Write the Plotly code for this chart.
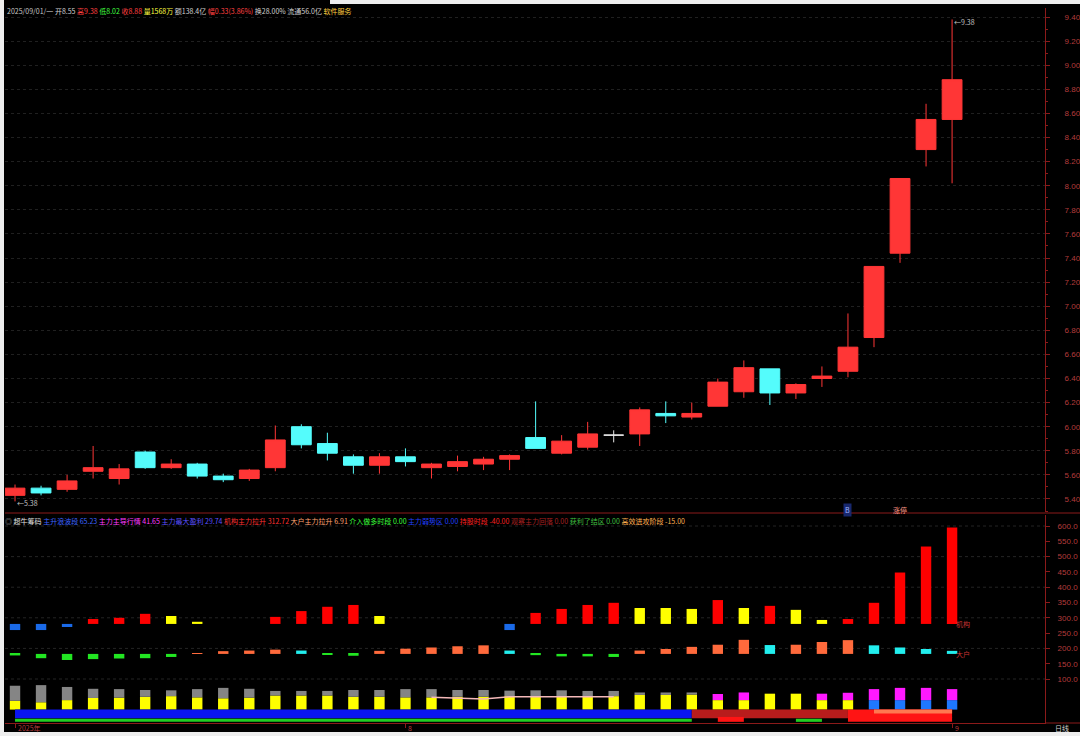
import plotly.graph_objects as go

# ---------------- data ----------------
dates = ["2025-07-11", "2025-07-14", "2025-07-15", "2025-07-16", "2025-07-17", "2025-07-18",
         "2025-07-21", "2025-07-22", "2025-07-23", "2025-07-24", "2025-07-25",
         "2025-07-28", "2025-07-29", "2025-07-30", "2025-07-31", "2025-08-01",
         "2025-08-04", "2025-08-05", "2025-08-06", "2025-08-07", "2025-08-08",
         "2025-08-11", "2025-08-12", "2025-08-13", "2025-08-14", "2025-08-15",
         "2025-08-18", "2025-08-19", "2025-08-20", "2025-08-21", "2025-08-22",
         "2025-08-25", "2025-08-26", "2025-08-27", "2025-08-28", "2025-08-29",
         "2025-09-01"]
opens = [5.43, 5.49, 5.48, 5.63, 5.57, 5.79, 5.66, 5.69, 5.59, 5.57, 5.66, 6.00, 5.86, 5.75, 5.68,
         5.75, 5.66, 5.67, 5.69, 5.73, 5.91, 5.78, 5.83, 5.93, 5.94, 6.11, 6.08, 6.17, 6.29, 6.48,
         6.28, 6.40, 6.46, 6.74, 7.44, 8.30, 8.55]
highs = [5.52, 5.51, 5.60, 5.84, 5.69, 5.80, 5.73, 5.70, 5.61, 5.65, 6.01, 6.02, 5.95, 5.77, 5.78,
         5.82, 5.70, 5.76, 5.75, 5.77, 6.21, 5.93, 6.04, 5.97, 6.16, 6.21, 6.20, 6.40, 6.55, 6.48,
         6.36, 6.50, 6.94, 7.33, 8.06, 8.68, 9.38]
lows = [5.38, 5.43, 5.46, 5.57, 5.52, 5.65, 5.65, 5.57, 5.54, 5.55, 5.63, 5.82, 5.72, 5.61, 5.61,
        5.67, 5.57, 5.63, 5.64, 5.64, 5.82, 5.77, 5.81, 5.87, 5.84, 6.03, 6.06, 6.17, 6.24, 6.18,
        6.23, 6.33, 6.41, 6.66, 7.36, 8.16, 8.02]
closes = [5.49, 5.45, 5.55, 5.66, 5.65, 5.66, 5.69, 5.59, 5.56, 5.64, 5.89, 5.85, 5.78, 5.68, 5.75,
          5.71, 5.69, 5.71, 5.73, 5.76, 5.82, 5.88, 5.94, 5.93, 6.14, 6.09, 6.11, 6.37, 6.49, 6.28,
          6.35, 6.42, 6.66, 7.33, 8.06, 8.55, 8.88]

# 机构 bars (top value, floating on a base line)
jigou_base = 280
jigou_tops = [260, 260, 270, 296, 300, 313, 306, 287, 280, 280, 303, 322, 336, 342, 306, 280, 280,
              280, 280, 260, 316, 329, 342, 349, 332, 332, 329, 358, 332, 339, 326, 293, 296, 349,
              448, 533, 595]
# 大户 bars
dahu_base = 182
dahu_tops = [177, 168, 162, 165, 167, 168, 172, 183, 191, 193, 196, 193, 180, 176, 192, 199, 203,
             207, 210, 193, 178, 174, 174, 172, 193, 198, 205, 212, 228, 211, 212, 221, 227, 210,
             203, 198, 192]
# bottom stacked bars
seg_low = [29, 24, 31, 38, 39, 42, 44, 40, 37, 39, 46, 46, 46, 42, 42, 40, 40, 42, 42, 44, 44, 44,
           44, 44, 48, 48, 49, 31, 31, 52, 52, 31, 31, 31, 31, 31, 31]
seg_high = [78, 80, 74, 68, 67, 64, 63, 67, 71, 68, 61, 61, 61, 64, 64, 67, 67, 64, 64, 62, 63, 63,
            61, 61, 56, 56, 56, 51, 56, 52, 52, 52, 55, 67, 71, 71, 67]
seg_low_kind = ["黄"] * 33 + ["蓝"] * 4
seg_high_kind = ["灰"] * 27 + ["紫"] * 10
pink_dates = dates[16:24]
pink_vals = [40, 38, 35, 42, 42, 40, 42, 42]
# bottom ribbons
band_upper_kind = ["蓝"] * 27 + ["暗红"] * 6 + ["红"] * 4
band_cap_kind = [None] * 33 + ["橙"] * 4
band_lower_kind = ["绿"] * 27 + ["红"] * 2 + [None] + ["绿"] * 2 + ["红"] * 5

month_dates = ["2025-07-11", "2025-08-01", "2025-09-01"]
month_labels = ["2025年", "8", "9"]

legend_names = ["主升浪波段", "主力主导行情", "主力最大盈利", "机构主力拉升", "大户主力拉升",
                "介入做多时段", "主力弱势区", "持股时段", "观察主力回落", "获利了结区", "高效进攻阶段"]
legend_values = ["65.23", "41.65", "29.74", "312.72", "6.91", "0.00", "0.00", "-40.00", "0.00",
                 "0.00", "-15.00"]
header_fields = ["2025/09/01/一", "开", "高", "低", "收", "量1568万", "额138.4亿",
                 "幅0.33(3.86%)", "换28.00%", "流通56.0亿", "软件服务"]

# ---------------- styles ----------------
BG = "#000000"
AXC = "#8b1a1a"
TICKC = "#b43c3c"
legend_colors = ["#3c64ff", "#ff3cff", "#5a50ff", "#ff3030", "#ffa070", "#3cff3c", "#2040ff",
                 "#ff2020", "#a82020", "#40c040", "#ffb050"]
header_colors = ["#c8c8c8", "#d0d0d0", "#ff4040", "#40ff40", "#ff4040", "#ffff40", "#d0d0d0",
                 "#ff4040", "#d0d0d0", "#d0d0d0", "#ffd040"]
seg_colors = {"黄": "#ffff00", "蓝": "#1e78ff", "灰": "#858585", "紫": "#ff19ff"}
band_colors = {"蓝": "#0a14f0", "暗红": "#b81c1c", "红": "#ff1414", "橙": "#ff7850", "绿": "#22cc22"}

L, R, T, B = 5, 35, 8, 13
W, H = 1080, 736


def px(x):
    return (x - L) / (W - L - R)


def py(y):
    return (H - B - y) / (H - T - B)


def trend_colors(vals, base, below, up, down):
    out, prev = [], None
    for v in vals:
        if v < base:
            out.append(below)
        elif prev is None or v > prev:
            out.append(up)
        else:
            out.append(down)
        prev = v
    return out


fig = go.Figure()

# candles split by direction
up_i = [i for i in range(len(dates)) if closes[i] > opens[i]]
dn_i = [i for i in range(len(dates)) if closes[i] < opens[i]]
fl_i = [i for i in range(len(dates)) if closes[i] == opens[i]]
for idx, col in ((up_i, "#ff3636"), (dn_i, "#54fcfc"), (fl_i, "#e6e6e6")):
    fig.add_trace(go.Candlestick(
        x=[dates[i] for i in idx], open=[opens[i] for i in idx], high=[highs[i] for i in idx],
        low=[lows[i] for i in idx], close=[closes[i] for i in idx],
        increasing=dict(fillcolor=col, line=dict(color=col, width=1)),
        decreasing=dict(fillcolor=col, line=dict(color=col, width=1)),
        xaxis="x", yaxis="y", hoverinfo="skip"))

BW = 0.4
# 机构 bars
fig.add_trace(go.Bar(x=dates, y=[v - jigou_base for v in jigou_tops], base=jigou_base, width=BW,
                     marker=dict(color=trend_colors(jigou_tops, jigou_base, "#1a6ae8", "#ff0000", "#ffff00"),
                                 line=dict(width=0)), yaxis="y2"))
# 大户 bars
fig.add_trace(go.Bar(x=dates, y=[v - dahu_base for v in dahu_tops], base=dahu_base, width=BW,
                     marker=dict(color=trend_colors(dahu_tops, dahu_base, "#22e622", "#ff6a3c", "#22eeee"),
                                 line=dict(width=0)), yaxis="y2"))
# stacked bottom bars
fig.add_trace(go.Bar(x=dates, y=seg_low, base=0, width=BW,
                     marker=dict(color=[seg_colors[k] for k in seg_low_kind], line=dict(width=0)), yaxis="y2"))
fig.add_trace(go.Bar(x=dates, y=[h - l for h, l in zip(seg_high, seg_low)], base=seg_low, width=BW,
                     marker=dict(color=[seg_colors[k] for k in seg_high_kind], line=dict(width=0)), yaxis="y2"))
fig.add_trace(go.Scatter(x=pink_dates, y=pink_vals, mode="lines", line=dict(color="#f4b8b8", width=1.5),
                         yaxis="y2", hoverinfo="skip"))


def runs(kinds):
    out, start = [], None
    for i, k in enumerate(kinds + [None]):
        if start is not None and (i == len(kinds) or kinds[i] != kinds[start]):
            out.append((start, i - 1, kinds[start]))
            start = None
        if i < len(kinds) and k is not None and start is None:
            start = i
    return out


def ribbon(i0, i1, top, bot, color):
    xs = dates[i0:i1 + 1]
    fig.add_trace(go.Scatter(x=xs + xs[::-1], y=[top] * len(xs) + [bot] * len(xs), fill="toself",
                             fillcolor=color, mode="lines", line=dict(width=0), yaxis="y2",
                             hoverinfo="skip"))


for k, (i0, i1, kind) in enumerate(runs(band_upper_kind)):
    ribbon(max(i0 - 1, 0) if k > 0 else i0, i1, 0, -28, band_colors[kind])
for i0, i1, kind in runs(band_lower_kind):
    ribbon(i0, i1, -30 if kind == "绿" else -24, -40, band_colors[kind])
for i0, i1, kind in runs(band_cap_kind):
    ribbon(i0, i1, 0, -13, band_colors[kind])

# ---------------- layout ----------------
ann = []
CJK = "Noto Sans CJK SC"
hdr_vals = [header_fields[0], f"开{opens[-1]:.2f}", f"高{highs[-1]:.2f}", f"低{lows[-1]:.2f}",
            f"收{closes[-1]:.2f}"] + header_fields[5:]
hdr = " ".join(f'<span style="color:{c}">{t}</span>' for t, c in zip(hdr_vals, header_colors))
ann.append(dict(xref="paper", yref="paper", x=px(5), y=py(11), xanchor="left", yanchor="middle",
                text=hdr, showarrow=False, font=dict(family=CJK, size=7)))
leg = '<span style="color:#a0a0a0">◎</span> <span style="color:#e0e0e0">超牛筹码</span> ' + " ".join(
    f'<span style="color:{c}">{n} {v}</span>' for n, v, c in zip(legend_names, legend_values, legend_colors))
ann.append(dict(xref="paper", yref="paper", x=px(3), y=py(521), xanchor="left", yanchor="middle",
                text=leg, showarrow=False, font=dict(family=CJK, size=7)))
lo_i = lows.index(min(lows))
hi_i = highs.index(max(highs))
ann.append(dict(xref="x", yref="y", x=dates[lo_i], y=lows[lo_i], xanchor="left", yanchor="middle",
                yshift=-2, text=f"←{lows[lo_i]:.2f}", showarrow=False, font=dict(family=CJK, size=7, color="#c0c0c0")))
ann.append(dict(xref="x", yref="y", x=dates[hi_i], y=highs[hi_i], xanchor="left", yanchor="middle",
                yshift=-3, text=f"←{highs[hi_i]:.2f}", showarrow=False, font=dict(family=CJK, size=7, color="#c0c0c0")))
ann.append(dict(xref="x", yref="y2", x=dates[-1], y=jigou_base, xanchor="left", yanchor="middle",
                xshift=2, text="机构", showarrow=False, font=dict(family=CJK, size=7, color="#c83232")))
ann.append(dict(xref="x", yref="y2", x=dates[-1], y=dahu_base, xanchor="left", yanchor="middle",
                xshift=2, text="大户", showarrow=False, font=dict(family=CJK, size=7, color="#c83232")))
ann.append(dict(xref="x", yref="paper", x=dates[32], y=py(510), xanchor="center", yanchor="middle",
                text="B", showarrow=False, bgcolor="#18286e", font=dict(family=CJK, size=7, color="#a0b8ff")))
ann.append(dict(xref="x", yref="paper", x=dates[34], y=py(510), xanchor="center", yanchor="middle",
                text="涨停", showarrow=False, font=dict(family=CJK, size=7, color="#ff9a8a")))
for d, lab in zip(month_dates, month_labels):
    ann.append(dict(xref="x", yref="paper", x=d, y=py(728), xanchor="left", yanchor="middle",
                    xshift=1, text=lab, showarrow=False, font=dict(family=CJK, size=7, color="#b43c3c")))
ann.append(dict(xref="paper", yref="paper", x=px(1062), y=py(728), xanchor="center", yanchor="middle",
                text="日线", showarrow=False, font=dict(family=CJK, size=7, color="#d0d0d0")))

shapes = []
for v in (100, 200, 300, 400, 500, 600):
    shapes.append(dict(type="line", xref="paper", yref="y2", x0=0, x1=1, y0=v, y1=v, layer="below",
                       line=dict(color="#242424", width=1, dash="dot")))
shapes.append(dict(type="line", xref="paper", yref="paper", x0=0, x1=px(1080), y0=py(513), y1=py(513),
                   line=dict(color=AXC, width=1)))
shapes.append(dict(type="line", xref="paper", yref="paper", x0=1, x1=px(1080), y0=py(723), y1=py(723),
                   line=dict(color=AXC, width=1)))
for x0, x1, y0, y1 in ((0, 4, 0, 736), (0, 1080, 732, 736), (330, 1080, 0, 4)):
    shapes.append(dict(type="rect", xref="paper", yref="paper", x0=px(x0), x1=px(x1), y0=py(y0), y1=py(y1),
                       fillcolor="#eeeeee", line=dict(width=0), layer="above"))

fig.update_layout(
    width=W, height=H, margin=dict(l=L, r=R, t=T, b=B, autoexpand=False),
    paper_bgcolor=BG, plot_bgcolor=BG, showlegend=False, hovermode=False,
    barmode="overlay", boxgap=0.24, boxgroupgap=0,
    xaxis=dict(type="category", categoryorder="array", categoryarray=dates, anchor="y2",
               range=[-0.385, 39.57], showgrid=False, showline=True, linecolor=AXC, automargin=False,
               tickvals=month_dates, ticktext=["", "", ""], ticks="outside", ticklen=4,
               tickcolor=AXC, rangeslider=dict(visible=False), zeroline=False),
    yaxis=dict(domain=[py(512), 1], side="right", anchor="x", range=[5.292, 9.475], automargin=False,
               tick0=5.4, dtick=0.2, tickformat=".2f", showgrid=True, gridcolor="#202020",
               griddash="dot", showline=True, linecolor=AXC, ticks="outside", ticklen=4,
               tickcolor=AXC, zeroline=False, ticklabelstandoff=13,
               minor=dict(dtick=0.1, tick0=5.4, ticks="outside", ticklen=2, tickcolor=AXC, showgrid=False),
               tickfont=dict(family="Liberation Sans", size=8, color=TICKC)),
    yaxis2=dict(domain=[0, py(515)], side="right", anchor="x", range=[-43.8, 636], automargin=False,
                tickvals=[100, 150, 200, 250, 300, 350, 400, 450, 500, 550, 600], tickformat=".1f",
                showgrid=False, showline=True, linecolor=AXC, ticks="outside", ticklen=4,
                tickcolor=AXC, zeroline=False, ticklabelstandoff=6,
                tickfont=dict(family="Liberation Sans", size=8, color=TICKC)),
    annotations=ann, shapes=shapes,
)

fig.write_html(
    "out.html", config={"displayModeBar": False},
    post_script=("document.documentElement.style.overflow='hidden';"
                 "document.body.style.overflow='hidden';"
                 "document.body.style.margin='0';document.body.style.background='#000';"))
